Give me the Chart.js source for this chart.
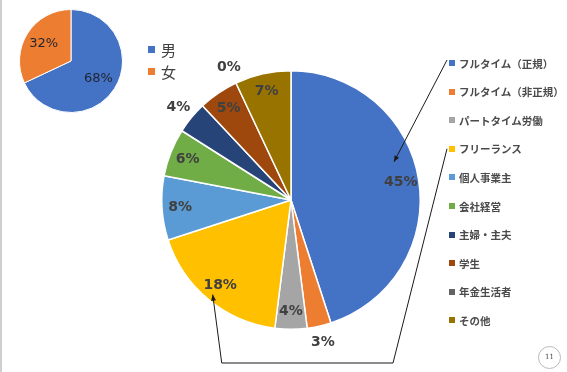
<!DOCTYPE html>
<html>
<head>
<meta charset="utf-8">
<script src="https://cdn.jsdelivr.net/npm/chart.js@4/dist/chart.umd.min.js"></script>
<style>
  html, body { margin: 0; padding: 0; background: #fff; }
  #slide { position: relative; width: 567px; height: 372px; overflow: hidden; background: #fff; }
  #slide::before { content: ""; position: absolute; left: 0; top: 0; width: 2px; height: 372px; background: #cfcfcf; }
  #bigChart { position: absolute; left: 0; top: 0; }
  #smallChart { position: absolute; top: 9px; left: 19px; }
  .legend { position: absolute; margin: 0; padding: 0; list-style: none; }
  .legend li { position: absolute; left: 0; white-space: nowrap; display: flex; align-items: center; }
  .legend .box { display: inline-block; }
  #genderLegend { left: 148px; top: 0; font: 15px "Noto Sans CJK JP", sans-serif; color: #404040; }
  #genderLegend .box { width: 7px; height: 7px; margin-right: 6px; }
  #jobLegend { left: 449px; top: 0; font: 700 10.5px "Noto Sans CJK JP", sans-serif; color: #4a4a4a; }
  #jobLegend .box { width: 6px; height: 6px; margin-right: 4px; }
  #pageNo { position: absolute; left: 538px; top: 346px; width: 21px; height: 21px; border: 1px solid #b8b8b8; border-radius: 50%;
            font: 7px "DejaVu Serif", serif; color: #444; text-align: center; line-height: 21px; }
</style>
</head>
<body>
<div id="slide">
  <canvas id="bigChart" width="567" height="372"></canvas>
  <canvas id="smallChart" width="104" height="104"></canvas>
  <ul class="legend" id="genderLegend"></ul>
  <ul class="legend" id="jobLegend"></ul>
  <div id="pageNo">11</div>
</div>
<script>
// Data
const genderLabels = ["男", "女"];
const genderValues = [68, 32];
const genderColors = ["#4472C4", "#ED7D31"];

const jobLabels = ["フルタイム（正規）", "フルタイム（非正規）", "パートタイム労働", "フリーランス", "個人事業主",
                   "会社経営", "主婦・主夫", "学生", "年金生活者", "その他"];
const jobValues = [45, 3, 4, 18, 8, 6, 4, 5, 0, 7];
const jobColors = ["#4472C4", "#ED7D31", "#A5A5A5", "#FFC000", "#5B9BD5",
                   "#70AD47", "#264478", "#9E480E", "#636363", "#997300"];
// which labels sit outside the pie
const jobOutside = [false, true, false, false, false, false, true, false, true, false];

// Build HTML legends
function buildLegend(id, labels, colors, top0, step, h) {
  const ul = document.getElementById(id);
  labels.forEach((lab, i) => {
    const li = document.createElement("li");
    li.style.top = (top0 + i * step) + "px";
    li.style.height = h + "px";
    li.innerHTML = `<span class="box" style="background:${colors[i]}"></span>${lab}`;
    ul.appendChild(li);
  });
}
buildLegend("genderLegend", genderLabels, genderColors, 39, 22, 20);
buildLegend("jobLegend", jobLabels, jobColors, 55, 28.6, 16);

// Percent labels on slices
const pctLabels = {
  id: "pctLabels",
  afterDatasetsDraw(chart, args, opts) {
    const ctx = chart.ctx;
    const meta = chart.getDatasetMeta(0);
    const values = chart.data.datasets[0].data;
    ctx.save();
    ctx.font = opts.font;
    ctx.fillStyle = opts.color;
    ctx.textAlign = "center";
    ctx.textBaseline = "middle";
    meta.data.forEach((arc, i) => {
      const mid = (arc.startAngle + arc.endAngle) / 2;
      const out = opts.outside && opts.outside[i];
      const r = arc.outerRadius * (out ? opts.outR : opts.inR);
      ctx.fillText(values[i] + "%", arc.x + Math.cos(mid) * r, arc.y + Math.sin(mid) * r);
    });
    ctx.restore();
  }
};

// Leader lines from legend to slices
function arrowHead(ctx, fx, fy, tx, ty) {
  const a = Math.atan2(ty - fy, tx - fx);
  const len = 6, w = 2.5;
  ctx.beginPath();
  ctx.moveTo(tx, ty);
  ctx.lineTo(tx - len * Math.cos(a) + w * Math.sin(a), ty - len * Math.sin(a) - w * Math.cos(a));
  ctx.lineTo(tx - len * Math.cos(a) - w * Math.sin(a), ty - len * Math.sin(a) + w * Math.cos(a));
  ctx.closePath();
  ctx.fill();
}
function legendAnchor(i) {
  const box = document.querySelectorAll("#jobLegend .box")[i].getBoundingClientRect();
  const s = document.getElementById("slide").getBoundingClientRect();
  return { x: box.left - s.left - 2, y: box.top - s.top };
}
const leaderLines = {
  id: "leaderLines",
  afterDraw(chart) {
    const ctx = chart.ctx;
    const meta = chart.getDatasetMeta(0);
    const area = chart.chartArea;
    ctx.save();
    ctx.strokeStyle = "#1a1a1a";
    ctx.fillStyle = "#1a1a1a";
    ctx.lineWidth = 1;

    // first slice: straight arrow
    const a0 = meta.data[0];
    const m0 = a0.startAngle + (a0.endAngle - a0.startAngle) * 0.43;
    const t0 = { x: a0.x + Math.cos(m0) * a0.outerRadius * 0.85, y: a0.y + Math.sin(m0) * a0.outerRadius * 0.85 };
    const s0 = legendAnchor(0);
    ctx.beginPath(); ctx.moveTo(s0.x, s0.y); ctx.lineTo(t0.x, t0.y); ctx.stroke();
    arrowHead(ctx, s0.x, s0.y, t0.x, t0.y);

    // freelance slice: bracket going under the pie
    const a3 = meta.data[3];
    const m3 = (a3.startAngle + a3.endAngle) / 2;
    const t3 = { x: a3.x + Math.cos(m3) * a3.outerRadius * 0.95, y: a3.y + Math.sin(m3) * a3.outerRadius * 0.95 };
    const s3 = legendAnchor(3);
    const by = area.bottom + 33;
    ctx.beginPath();
    ctx.moveTo(s3.x, s3.y + 3);
    ctx.lineTo(a0.x + 102, by);
    ctx.lineTo(t3.x + 9, by);
    ctx.lineTo(t3.x, t3.y);
    ctx.stroke();
    arrowHead(ctx, t3.x + 9, by, t3.x, t3.y);
    ctx.restore();
  }
};

// Big pie
new Chart(document.getElementById("bigChart"), {
  type: "pie",
  data: {
    labels: jobLabels,
    datasets: [{ data: jobValues, backgroundColor: jobColors, borderColor: "#ffffff", borderWidth: 1.5 }]
  },
  options: {
    responsive: false,
    animation: false,
    layout: { padding: { left: 161, right: 146, top: 70, bottom: 42 } },
    plugins: {
      legend: { display: false },
      tooltip: { enabled: false },
      pctLabels: { font: "bold 14px 'DejaVu Sans'", color: "#404040", inR: 0.86, outR: 1.13, outside: jobOutside }
    }
  },
  plugins: [pctLabels, leaderLines]
});

// Small pie
new Chart(document.getElementById("smallChart"), {
  type: "pie",
  data: {
    labels: genderLabels,
    datasets: [{ data: genderValues, backgroundColor: genderColors, borderColor: "#ffffff", borderWidth: 1 }]
  },
  options: {
    responsive: false,
    animation: false,
    plugins: {
      legend: { display: false },
      tooltip: { enabled: false },
      pctLabels: { font: "13px 'DejaVu Sans'", color: "#1f2430", inR: 0.63, outR: 1.1 }
    }
  },
  plugins: [pctLabels]
});
</script>
</body>
</html>
